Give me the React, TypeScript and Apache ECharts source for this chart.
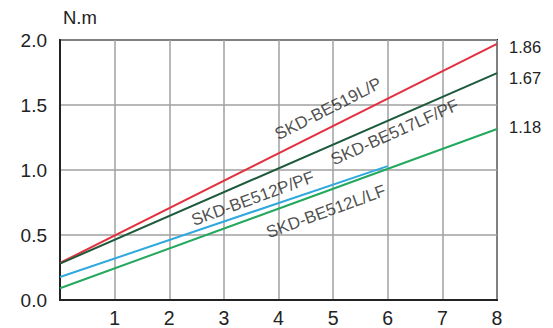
import React, { useEffect, useRef } from "react";
import * as echarts from "echarts";

const xTicks = [0, 1, 2, 3, 4, 5, 6, 7, 8];
const seriesNames = ["SKD-BE519L/P", "SKD-BE517LF/PF", "SKD-BE512L/LF", "SKD-BE512P/PF"];
const red519: [number, number][] = [[0, 0.285], [8, 1.97]];
const dark517: [number, number][] = [[0, 0.28], [8, 1.745]];
const green512L: [number, number][] = [[0, 0.09], [8, 1.315]];
const cyan512P: [number, number][] = [[0, 0.177], [6, 1.03]];
const endTexts = ["1.86", "1.67", "1.18", ""];
const lineLabelPos: [number, number][] = [[4.91, 1.47], [6.13, 1.29], [4.87, 0.68], [3.53, 0.78]];
const lineLabelRot = [27, 24, 20, 20];

const FONT = "'Liberation Sans', Arial, sans-serif";

export default function App() {
  const ref = useRef<HTMLDivElement>(null);
  useEffect(() => {
    if (!ref.current) return;
    const chart = echarts.init(ref.current, undefined, { renderer: "svg" });
    const colors = ["#e2303c", "#1d5a3c", "#23a85e", "#2ea8de"];
    const datas = [red519, dark517, green512L, cyan512P];
    const endOffsets = [[0, 3], [0, 5], [0, -2], [0, 0]];
    const lineSeries = datas.map((d, i) => ({
      type: "line",
      name: seriesNames[i],
      data: d,
      showSymbol: false,
      symbol: "none",
      z: i === 3 ? 3 : 2,
      lineStyle: { color: colors[i], width: 2 },
      endLabel: {
        show: endTexts[i] !== "",
        formatter: () => endTexts[i],
        distance: 12,
        offset: endOffsets[i],
        color: "#222",
        fontSize: 16.5,
        fontFamily: FONT,
      },
    }));
    const labelSeries = {
      type: "scatter",
      symbolSize: 0,
      z: 5,
      data: lineLabelPos.map((p, i) => ({
        value: p,
        name: seriesNames[i],
        label: { rotate: lineLabelRot[i] },
      })),
      label: {
        show: true,
        position: "inside",
        formatter: (p: any) => p.name,
        color: "#222",
        fontSize: 17,
        fontFamily: FONT,
      },
      silent: true,
    };
    chart.setOption({
      animation: false,
      backgroundColor: "#fff",
      grid: { left: 60, top: 40, width: 437, height: 260, show: true, borderColor: "#222", borderWidth: 2 },
      graphic: [
        { type: "text", left: 63, top: 8, style: { text: "N.m", fontSize: 18.5, fontFamily: FONT, fill: "#222" } },
      ],
      xAxis: {
        type: "value",
        min: 0,
        max: 8,
        interval: 1,
        axisLine: { show: true, lineStyle: { color: "#222", width: 2 } },
        axisTick: { show: false },
        splitLine: { show: true, lineStyle: { color: "#a0a0a0", width: 1.5 } },
        axisLabel: {
          color: "#222",
          fontSize: 19.5,
          fontFamily: FONT,
          margin: 8,
          formatter: (v: number) => (v === 0 ? "" : String(xTicks[v])),
        },
      },
      yAxis: {
        type: "value",
        min: 0,
        max: 2,
        interval: 0.5,
        axisLine: { show: true, lineStyle: { color: "#222", width: 2 } },
        axisTick: { show: false },
        splitLine: { show: true, lineStyle: { color: "#a0a0a0", width: 1.5 } },
        axisLabel: {
          color: "#222",
          fontSize: 19,
          fontFamily: FONT,
          margin: 13,
          formatter: (v: number) => v.toFixed(1),
        },
      },
      series: [...lineSeries, labelSeries],
    });
    return () => chart.dispose();
  }, []);
  return <div ref={ref} style={{ position: "absolute", left: 0, top: 0, width: 553, height: 328 }} />;
}
